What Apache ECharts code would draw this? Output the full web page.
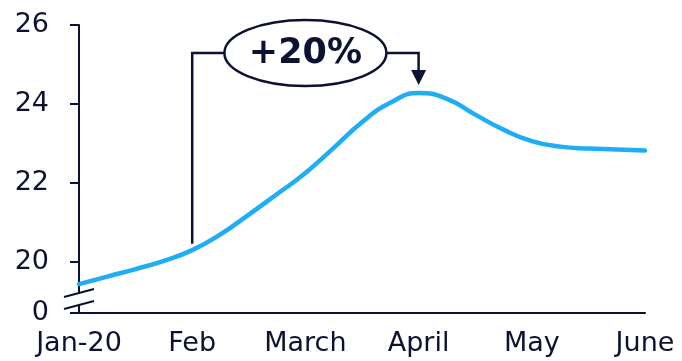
<!DOCTYPE html>
<html>
<head>
<meta charset="utf-8">
<script src="https://cdn.jsdelivr.net/npm/echarts@6/dist/echarts.min.js"></script>
<style>html,body{margin:0;padding:0;background:#fff;}#c{width:682px;height:361px;}</style>
</head>
<body>
<div id="c"></div>
<script>
// ---- data ----
const months = ['Jan-20', 'Feb', 'March', 'April', 'May', 'June'];
const xPos = [0, 0.25, 0.5, 0.75, 1, 1.25, 1.5, 1.75, 2, 2.25, 2.5, 2.75, 3, 3.25, 3.5, 3.75, 4, 4.25, 4.5, 4.75, 5];
const values = [19.44, 19.63, 19.82, 20.03, 20.30, 20.70, 21.20, 21.72, 22.25, 22.89, 23.54, 24.03, 24.28, 24.13, 23.73, 23.35, 23.06, 22.92, 22.87, 22.85, 22.82];
const yTickValues = [20, 22, 24, 26];
const yBreakBase = 18.72;       // position of the broken-axis "0"
const annotationText = '+20%';
const annFrom = 1, annTo = 3;   // Feb -> April

const ink = '#0d1230';
const blue = '#1faef5';
const font = 'DejaVu Sans';

const chart = echarts.init(document.getElementById('c'), null, {renderer: 'canvas'});
chart.setOption({
  animation: false,
  grid: {left: 79, right: 37, top: 25, bottom: 48.5, containLabel: false},
  xAxis: {
    type: 'value', min: 0, max: months.length - 1, interval: 1,
    axisLine: {show: true, lineStyle: {color: ink, width: 2}},
    axisTick: {show: false},
    splitLine: {show: false},
    axisLabel: {color: ink, fontFamily: font, fontSize: 27, margin: 18,
      formatter: v => months[Math.round(v)] || ''}
  },
  yAxis: {
    type: 'value', min: yBreakBase, max: 26,
    axisLine: {show: true, lineStyle: {color: ink, width: 2}},
    axisTick: {show: true, length: 9, lineStyle: {color: ink, width: 2},
      customValues: [yBreakBase].concat(yTickValues)},
    splitLine: {show: false},
    axisLabel: {color: ink, fontFamily: font, fontSize: 27, margin: 30,
      customValues: [yBreakBase].concat(yTickValues),
      formatter: v => (v < yTickValues[0] - 0.5 ? '0' : String(v))}
  },
  series: [{
    type: 'line', smooth: 0.5, symbol: 'none',
    lineStyle: {color: blue, width: 4.5, cap: 'round'},
    data: xPos.map((x, i) => [x, values[i]])
  }]
});

function px(x, y) { return chart.convertToPixel({gridIndex: 0}, [x, y]); }
const base = px(0, yBreakBase);
const feb = px(annFrom, 20.46);
const febTop = px(annFrom, 25.29);
const aprTop = px(annTo, 25.29);
const aprTip = px(annTo, 24.48);
const mid = px((annFrom + annTo) / 2, 25.29);
const rx = 81, ry = 33;

chart.setOption({
  graphic: [
    {type: 'rect', shape: {x: base[0] - 4, y: base[1] - 19, width: 8, height: 11}, style: {fill: '#fff'}, z: 100},
    {type: 'line', shape: {x1: base[0] - 15, y1: base[1] - 15.5, x2: base[0] + 15, y2: base[1] - 23.5}, style: {stroke: ink, lineWidth: 2}, z: 101},
    {type: 'line', shape: {x1: base[0] - 15, y1: base[1] - 3.5, x2: base[0] + 15, y2: base[1] - 11.5}, style: {stroke: ink, lineWidth: 2}, z: 101},
    {type: 'polyline', shape: {points: [[feb[0], feb[1]], [febTop[0], febTop[1]], [mid[0] - rx, mid[1]]]}, style: {stroke: ink, lineWidth: 2.5, fill: null}, z: 101},
    {type: 'polyline', shape: {points: [[mid[0] + rx, mid[1]], [aprTop[0], aprTop[1]], [aprTip[0], aprTip[1] - 14]]}, style: {stroke: ink, lineWidth: 2.5, fill: null}, z: 101},
    {type: 'polygon', shape: {points: [[aprTip[0] - 7.5, aprTip[1] - 15], [aprTip[0] + 7.5, aprTip[1] - 15], [aprTip[0], aprTip[1]]]}, style: {fill: ink}, z: 101},
    {type: 'ellipse', shape: {cx: mid[0], cy: mid[1], rx: rx, ry: ry}, style: {fill: '#fff', stroke: ink, lineWidth: 2.5}, z: 101},
    {type: 'text', x: mid[0], y: mid[1] + 1, style: {text: annotationText, fill: ink, font: 'bold 35px "DejaVu Sans"', align: 'center', verticalAlign: 'middle'}, z: 102}
  ]
});
</script>
</body>
</html>
